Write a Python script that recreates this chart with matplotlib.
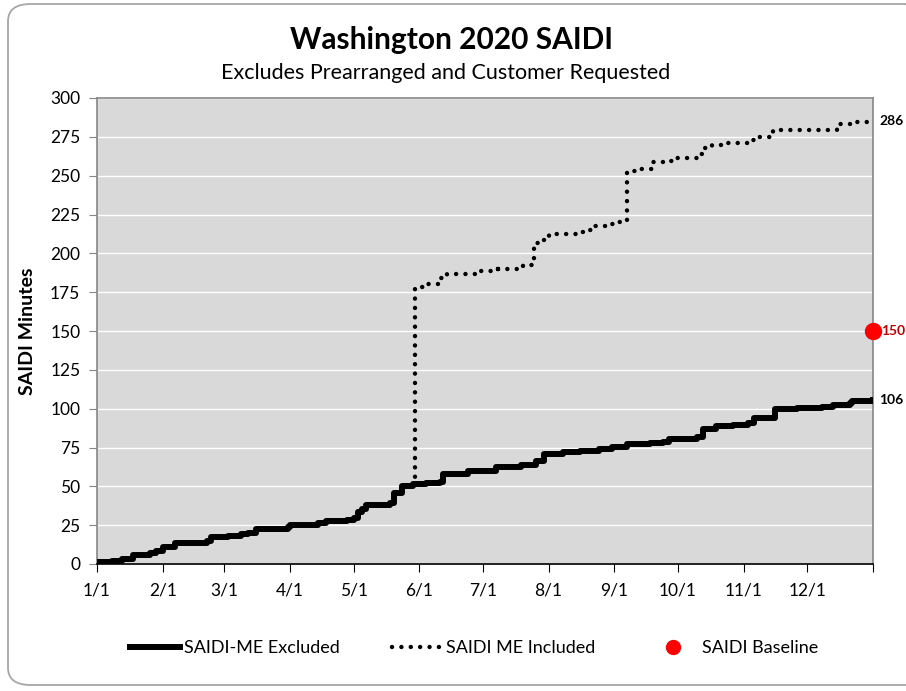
"""
Washington 2020 SAIDI - cumulative SAIDI minutes with and without major events.
Output: out.png
"""

import matplotlib.pyplot as plt
from matplotlib.lines import Line2D
from matplotlib.patches import FancyBboxPatch

plt.rcParams["font.family"] = ["Lato", "DejaVu Sans"]

# -- Data ----------------------------------------------------------------------

# day of year (2020, leap year) and cumulative SAIDI, major events excluded
excl_days = [0, 7, 12, 17, 25, 28, 31, 37, 52, 54, 62, 68, 71, 75, 90, 91,
             104, 108, 118, 121, 123, 125, 127, 138, 140, 144, 149, 155, 162,
             163, 175, 188, 200, 207, 211, 220, 228, 237, 243, 250, 261, 267,
             270, 283, 286, 292, 300, 307, 310, 320, 330, 342, 347, 355, 356,
             366]
excl_vals = [1, 2, 3, 6, 7, 8.5, 10.7, 13.7, 15, 17.6, 18, 19, 20, 22.5, 23.5,
             25, 26.5, 27.5, 28.5, 29.5, 33.5, 35.5, 38, 39, 45.5, 50.5, 51.5,
             52, 52.8, 58, 60, 62.4, 64, 66, 71, 72, 73, 74, 75.5, 77, 77.7,
             78.6, 80.6, 82, 86.6, 88.7, 89.8, 90.8, 94, 99.8, 100.4, 101, 102.6,
             103.6, 104.7, 105.4]

# major events included: same as above until the first major event (day 150)
incl_days_after = [150, 155, 162, 165, 179, 189, 201, 205, 206, 210, 213, 226,
                   230, 233, 243, 246, 250, 255, 262, 267, 271, 283, 286, 290,
                   295, 307, 311, 319, 349, 358, 366]
incl_vals_after = [178.5, 180, 184, 187, 188.8, 190, 192.3, 194, 206.5, 208.6,
                   212.3, 213.8, 215, 217.8, 219, 220.4, 253.2, 254, 258.5,
                   259.4, 261.5, 263.7, 267.9, 269.5, 271, 272.7, 275.2, 279.2,
                   283, 284.7, 285]

baseline_day = 366
baseline_val = 150

end_labels = ["286", "150", "106"]

month_starts = [0, 31, 60, 91, 121, 152, 182, 213, 244, 274, 305, 335, 366]
month_labels = ["1/1", "2/1", "3/1", "4/1", "5/1", "6/1", "7/1", "8/1",
                "9/1", "10/1", "11/1", "12/1", ""]

n_pre = sum(d < incl_days_after[0] for d in excl_days)
incl_days = excl_days[:n_pre] + incl_days_after
incl_vals = excl_vals[:n_pre] + incl_vals_after

DOTS = (0, (0.01, 2.1))

# -- Figure --------------------------------------------------------------------

fig = plt.figure(figsize=(9.06, 6.91), dpi=100)
fig.patch.set_facecolor("white")

frame = FancyBboxPatch((8 / 906, 6 / 691), 920 / 906, 681 / 691,
                       boxstyle="round,pad=0,rounding_size=0.025",
                       transform=fig.transFigure, facecolor="none",
                       edgecolor="#a6a6a6", linewidth=1.3)
fig.patches.append(frame)

ax = fig.add_axes([97 / 906, 1 - 564 / 691, 776 / 906, 466 / 691])
ax.set_facecolor("#d9d9d9")

ax.plot(incl_days, incl_vals, color="black", linewidth=3.2,
        linestyle=DOTS, dash_capstyle="round",
        drawstyle="steps-post", zorder=3)
ax.plot(excl_days, excl_vals, color="black", linewidth=4.3,
        drawstyle="steps-post", solid_joinstyle="round", zorder=4)
ax.plot([baseline_day], [baseline_val], "o", color="red", markersize=11.5,
        clip_on=False, zorder=5)

# end-of-year value labels, squeezed into the strip right of the plot
ax.annotate(end_labels[0], (incl_days[-1], incl_vals[-1]), xytext=(4.5, 0),
            textcoords="offset points", va="center", fontsize=10,
            fontweight="bold", annotation_clip=False)
ax.annotate(end_labels[1], (baseline_day, baseline_val), xytext=(6, 0),
            textcoords="offset points", va="center", fontsize=10,
            fontweight="bold", color="#c00000", annotation_clip=False)
ax.annotate(end_labels[2], (excl_days[-1], excl_vals[-1]), xytext=(4.5, 0),
            textcoords="offset points", va="center", fontsize=10,
            fontweight="bold", annotation_clip=False)

ax.set_xlim(0, 366)
ax.set_ylim(0, 300)
ax.set_yticks(range(0, 301, 25))
ax.set_xticks(month_starts)
ax.set_xticklabels(month_labels)
ax.tick_params(axis="y", labelsize=12.5, length=6, color="#868686", pad=6)
ax.tick_params(axis="x", labelsize=12.5, length=6, color="black", pad=7)
ax.yaxis.grid(True, color="white", linewidth=1.0)
ax.set_axisbelow(True)
for side in ["left", "right", "top"]:
    ax.spines[side].set_color("#868686")
    ax.spines[side].set_linewidth(1.2)
ax.spines["bottom"].set_color("black")
ax.spines["bottom"].set_linewidth(1.2)

ax.set_ylabel("SAIDI Minutes", fontsize=14, fontweight="bold", labelpad=10)

fig.text(0.498, 1 - 40 / 691, "Washington 2020 SAIDI", ha="center",
         va="center", fontsize=21.5, fontweight="bold")
fig.text(0.492, 1 - 73 / 691, "Excludes Prearranged and Customer Requested",
         ha="center", va="center", fontsize=15.5)

handles = [
    Line2D([], [], color="black", linewidth=4.3),
    Line2D([], [], color="black", linewidth=3.2, linestyle=DOTS,
           dash_capstyle="round"),
    Line2D([], [], color="red", marker="o", linestyle="none", markersize=10),
]
fig.legend(handles, ["SAIDI-ME Excluded", "SAIDI ME Included", "SAIDI Baseline"],
           loc="center", bbox_to_anchor=(0.523, 1 - 648 / 691), ncol=3,
           frameon=False, fontsize=13, handlelength=2.8, handletextpad=0.2,
           columnspacing=2.9)

fig.savefig("out.png", dpi=100)
print("Saved: out.png")
